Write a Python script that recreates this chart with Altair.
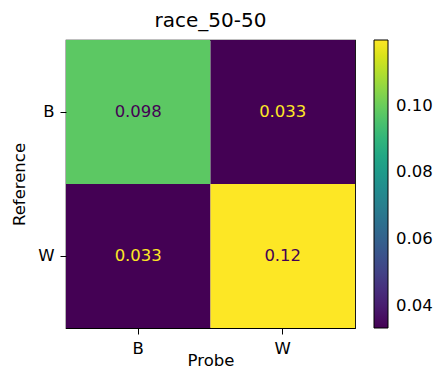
import altair as alt
import pandas as pd

reference = ["B", "B", "W", "W"]
probe = ["B", "W", "B", "W"]
values = [0.0980, 0.0334, 0.0334, 0.1197]
cats = ["B", "W"]
legend_ticks = [0.04, 0.06, 0.08, 0.10]

df = pd.DataFrame({"Reference": reference, "Probe": probe, "v": values})
vmin, vmax = min(values), max(values)
thresh = (vmin + vmax) / 2

FONT = "DejaVu Sans"

base = alt.Chart(df)

heat = base.mark_rect().encode(
    x=alt.X("Probe:N", sort=cats, title="Probe",
            axis=alt.Axis(labelAngle=0, titlePadding=-4)),
    y=alt.Y("Reference:N", sort=cats, title="Reference",
            axis=alt.Axis(titlePadding=10)),
    color=alt.Color("v:Q",
                    scale=alt.Scale(scheme="viridis", domain=[vmin, vmax]),
                    legend=alt.Legend(title=None, values=legend_ticks, format=".2f",
                                      gradientLength=288, gradientThickness=14,
                                      direction="vertical", orient="right",
                                      offset=19, padding=0,
                                      gradientStrokeColor="black", gradientStrokeWidth=1,
                                      labelFontSize=16.5, labelFont=FONT, labelColor="black",
                                      labelOffset=8)),
)

text = base.mark_text(font=FONT, fontSize=16.5).encode(
    x=alt.X("Probe:N", sort=cats),
    y=alt.Y("Reference:N", sort=cats),
    text=alt.Text("v:Q", format=".2g"),
    color=alt.condition(alt.datum.v > thresh, alt.value("#440154"), alt.value("#fde725")),
)

chart = (heat + text).properties(
    width=289, height=288,
    title=alt.Title("race_50-50", fontSize=20, font=FONT, fontWeight="normal",
                    color="black", offset=9),
    autosize=alt.AutoSizeParams(type="none"),
    padding={"left": 58, "top": 32, "right": 79, "bottom": 42},
).configure_view(
    stroke="black", strokeWidth=1.2
).configure_axis(
    domain=False, ticks=True, tickColor="black", tickSize=6, tickWidth=1,
    labelFont=FONT, labelFontSize=16.5, labelColor="black", labelPadding=6,
    titleFont=FONT, titleFontSize=16.5, titleColor="black", titleFontWeight="normal",
    grid=False,
)

chart.save("out.html", embed_options={"renderer": "svg", "actions": False})
